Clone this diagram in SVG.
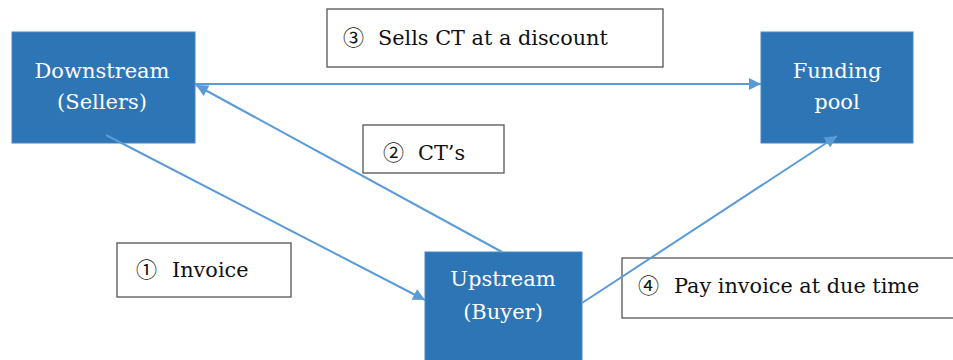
<svg xmlns="http://www.w3.org/2000/svg" width="953" height="360" viewBox="0 0 953 360">
<style>
.node{fill:#2E75B6;stroke:#4A86C0;stroke-width:1}
.nt{fill:#fff;font-family:"DejaVu Serif","Liberation Serif",serif;font-size:21px;text-anchor:middle}
.lb{fill:#fff;stroke:#555;stroke-width:1.3}
.lt{fill:#111;font-family:"DejaVu Serif","Liberation Serif",serif;font-size:20.8px}
.cn{font-family:"Noto Sans CJK SC","DejaVu Sans",sans-serif;font-size:21px}
.edge{fill:none;stroke:#5B9BD5;stroke-width:2}
</style>
<defs>
<marker id="ah2" viewBox="0 0 10 10" refX="10" refY="5" markerWidth="14" markerHeight="12" markerUnits="userSpaceOnUse" orient="auto">
<path d="M0,0 L10,5 L0,10 z" fill="#5B9BD5"/>
</marker>
</defs>
<rect width="953" height="360" fill="#fff"/>
<g id="labels">
<g id="label3"><rect class="lb" x="327" y="9" width="336" height="58"/><text class="lt" x="343" y="45"><tspan class="cn">③</tspan><tspan x="378">Sells CT at a discount</tspan></text></g>
<g id="label2"><rect class="lb" x="363" y="125" width="141" height="48"/><text class="lt" x="383" y="160"><tspan class="cn">②</tspan><tspan x="418">CT’s</tspan></text></g>
<g id="label1"><rect class="lb" x="117" y="243" width="174" height="54"/><text class="lt" x="136" y="277"><tspan class="cn">①</tspan><tspan x="172">Invoice</tspan></text></g>
<g id="label4"><rect class="lb" x="622" y="258" width="340" height="60"/><text class="lt" x="638" y="293"><tspan class="cn">④</tspan><tspan x="674">Pay invoice at due time</tspan></text></g>
</g>
<g id="downstream"><rect class="node" x="12" y="32" width="183" height="111"/><text class="nt" x="102" y="78">Downstream</text><text class="nt" x="102" y="109">(Sellers)</text></g>
<g id="funding"><rect class="node" x="761" y="32" width="152" height="111"/><text class="nt" x="837" y="78">Funding</text><text class="nt" x="837" y="109">pool</text></g>
<g id="upstream"><rect class="node" x="425" y="252" width="157" height="112"/><text class="nt" x="503" y="286">Upstream</text><text class="nt" x="503" y="319">(Buyer)</text></g>
<g id="connectors">
<line class="edge" x1="195" y1="84" x2="761" y2="84" marker-end="url(#ah2)"/>
<line class="edge" x1="502" y1="252" x2="196" y2="85" marker-end="url(#ah2)"/>
<line class="edge" x1="106" y1="135" x2="425" y2="300" marker-end="url(#ah2)"/>
<line class="edge" x1="582" y1="303" x2="837" y2="136" marker-end="url(#ah2)"/>
</g>
</svg>
